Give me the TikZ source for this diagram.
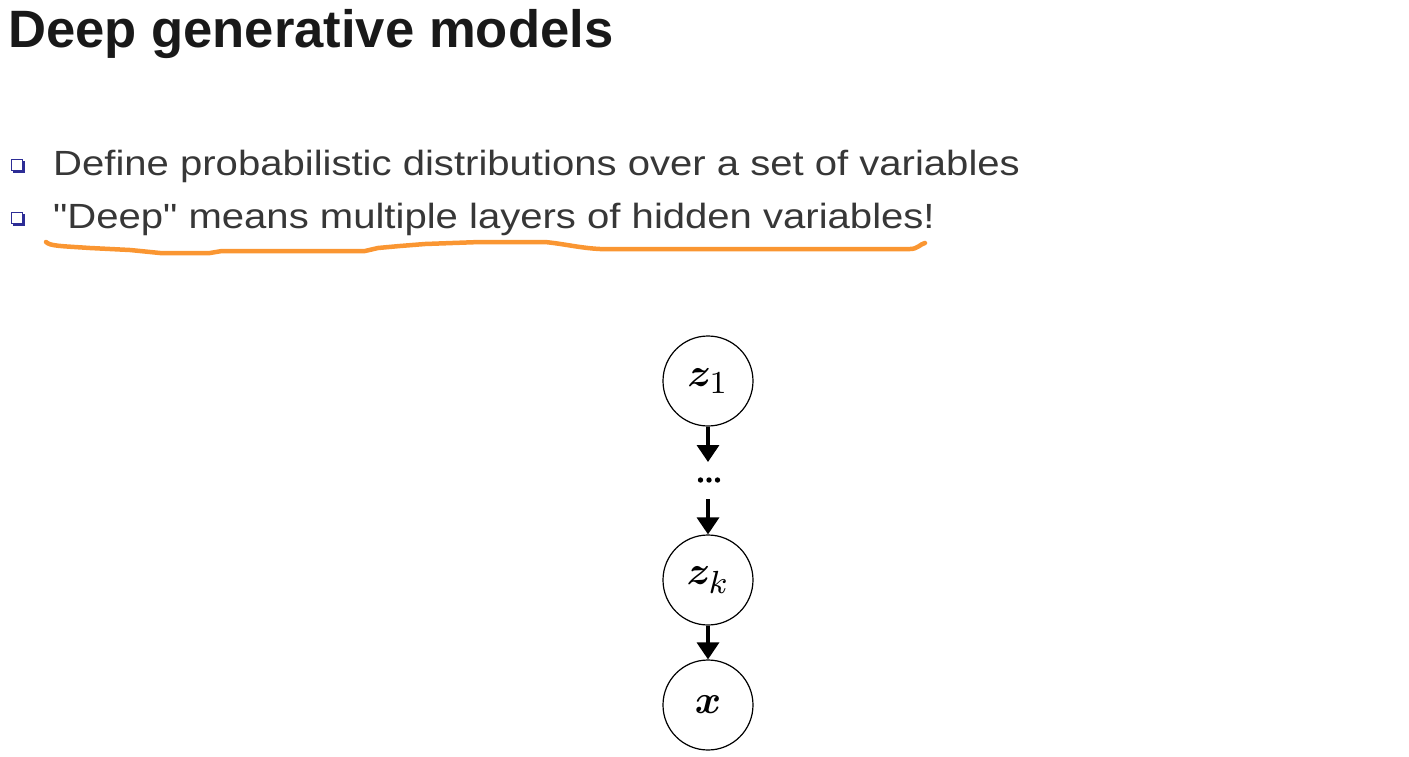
\documentclass[tikz,border=0pt]{standalone}
\usepackage{fontspec}
\usepackage{amsmath,bm,graphicx}
\setmainfont{Liberation Sans}
\newfontfamily\bodyfont[FakeStretch=1.145]{Liberation Sans}
\usetikzlibrary{arrows.meta}
\definecolor{txt}{RGB}{55,55,55}
\definecolor{bul}{RGB}{45,45,150}
\definecolor{hl}{RGB}{250,150,50}
\newcommand{\bigmath}[1]{\scalebox{4}{\normalsize$#1$}}
\newcommand{\sub}[1]{_{\mbox{\fontsize{8.5}{8.5}\selectfont$#1$}}}
\newcommand{\threedots}{\tikz[baseline=0pt]{\foreach \i in {0,8.5,17}{\fill (\i pt,0) circle (2.7pt);}}}
\tikzset{
  var/.style={draw, circle, line width=1.2pt, minimum size=90pt, inner sep=0pt},
  arr/.style={line width=3.5pt, -{Triangle[width=22pt,length=17pt]}},
  bullettext/.style={anchor=base west, inner sep=0pt, text=txt, font=\bodyfont\fontsize{35}{40}\selectfont},
  bulletbox/.style={draw=bul, fill=white, line width=1.4pt, minimum size=11pt, inner sep=0pt},
}
\begin{document}
\begin{tikzpicture}[x=1pt,y=-1pt]
\useasboundingbox (0,0) rectangle (1409,756);
\node[anchor=base west, inner sep=0pt, font=\fontsize{52.6}{56}\selectfont\bfseries, text=black!90] (title) at (8,47) {Deep generative models};
% bullets
\fill[bul] (13,161) rectangle (25,173);
\node[bulletbox] (b1) at (17,165) {};
\fill[bul] (13,214) rectangle (25,226);
\node[bulletbox] (b2) at (17,218) {};
\node[bullettext] (t1) at (53,175) {Define probabilistic distributions over a set of variables};
\node[bullettext] (t2) at (53,228) {\symbol{34}Deep\symbol{34} means multiple layers of hidden variables!};
% underline
\draw[hl, line width=4.5pt, line cap=round, line join=round]
  (46,242) .. controls (50,246) and (60,246) .. (90,248)
  -- (130,250) -- (160,253) -- (210,253) -- (222,251) -- (270,251) -- (365,251)
  -- (378,248) -- (400,246) -- (425,244) -- (480,242) -- (545,242)
  .. controls (565,244) and (580,248) .. (600,249) -- (700,249) -- (910,249)
  .. controls (918,249) and (920,244) .. (925,243);
% graph
\node[var] (z1) at (708,381) {\bigmath{\bm{z}\sub{1}}};
\node[inner sep=0pt] (dots) at (709,480) {\threedots};
\node[var] (zk) at (708,580) {\bigmath{\bm{z}\sub{k}}};
\node[var] (x) at (708,705) {\bigmath{\bm{x}}};
\draw[arr] (z1) -- (708,462);
\draw[arr] (708,499) -- (zk);
\draw[arr] (zk) -- (x);
\end{tikzpicture}
\end{document}
